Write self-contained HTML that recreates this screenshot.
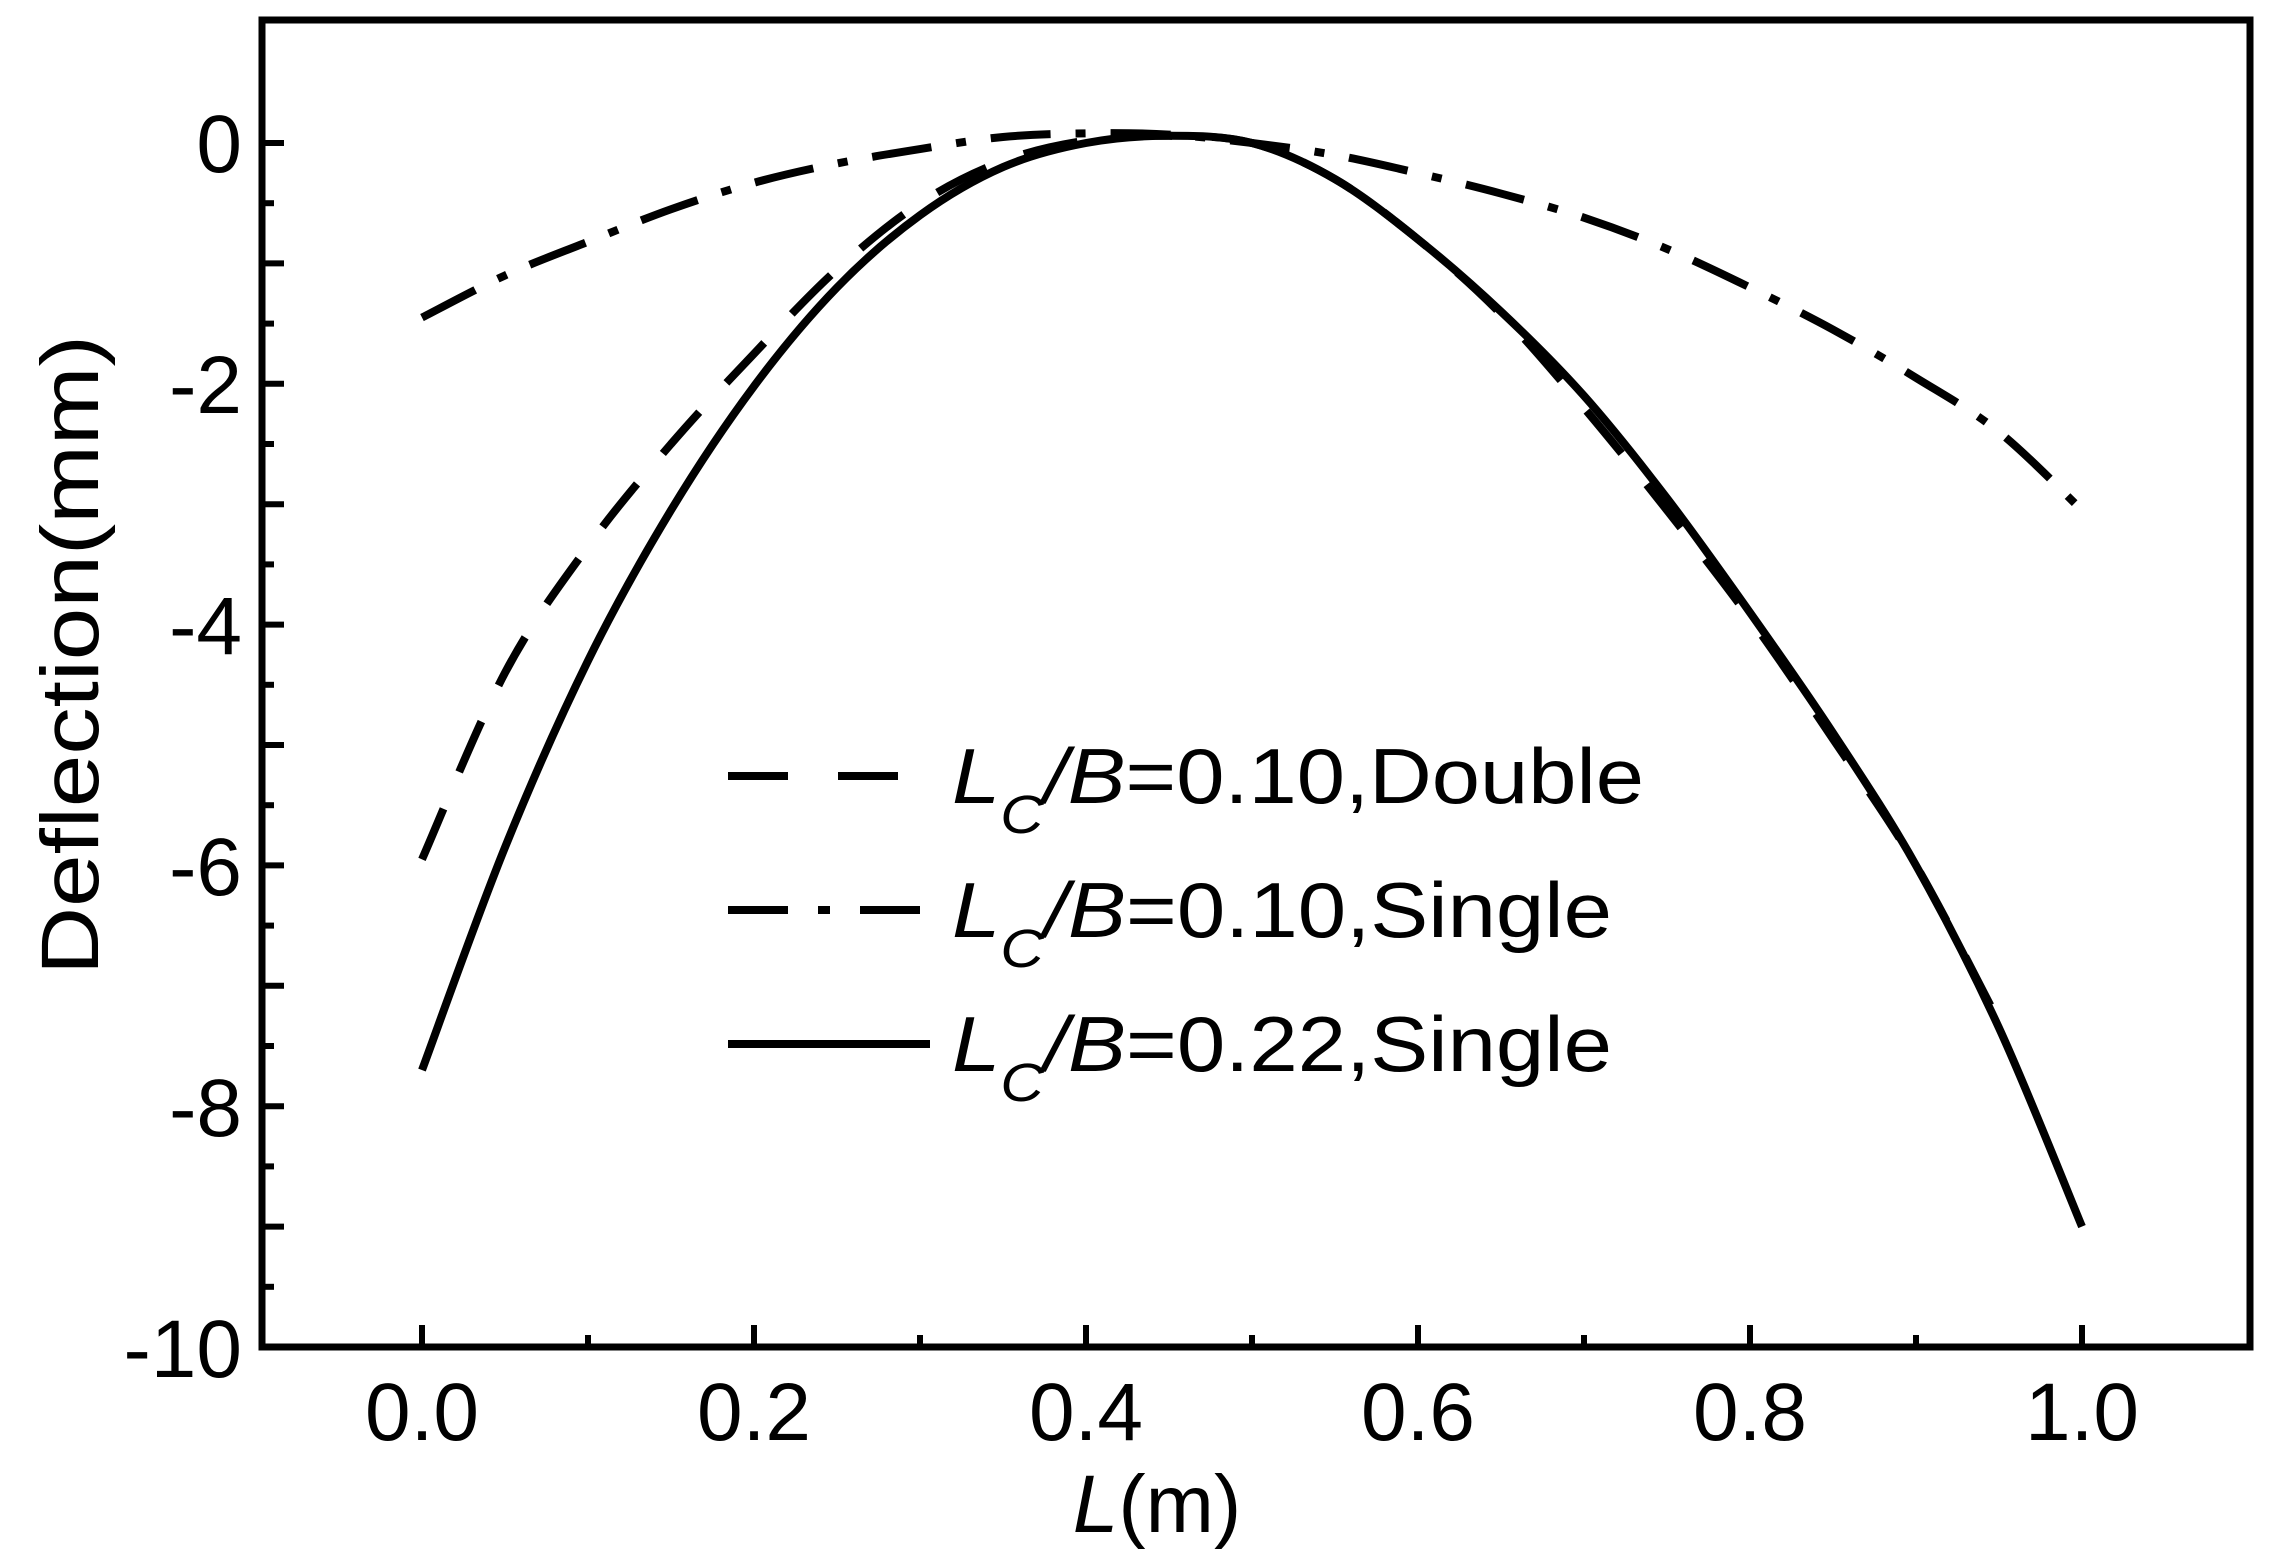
<!DOCTYPE html>
<html><head><meta charset="utf-8"><style>
html,body{margin:0;padding:0;background:#fff;}
svg{display:block;}
text{font-family:"Liberation Sans",Arial,sans-serif;fill:#000;}
</style></head><body>
<svg id="s" width="2277" height="1564" viewBox="0 0 2277 1564" xmlns="http://www.w3.org/2000/svg">
<rect x="0" y="0" width="2277" height="1564" fill="#fff"/>
<g id="curves" fill="none" stroke="#000" stroke-width="8" stroke-linejoin="round"></g>
<rect x="262" y="20" width="1988" height="1327" fill="none" stroke="#000" stroke-width="7"/>
<g id="ticks" stroke="#000" stroke-width="6"></g>
<g font-size="82">
<text x="242" y="172" text-anchor="end">0</text>
<text x="242" y="413" text-anchor="end">-2</text>
<text x="242" y="654" text-anchor="end">-4</text>
<text x="242" y="895" text-anchor="end">-6</text>
<text x="242" y="1136" text-anchor="end">-8</text>
<text x="242" y="1377" text-anchor="end">-10</text>
<text x="422" y="1440" text-anchor="middle">0.0</text>
<text x="754" y="1440" text-anchor="middle">0.2</text>
<text x="1086" y="1440" text-anchor="middle">0.4</text>
<text x="1418" y="1440" text-anchor="middle">0.6</text>
<text x="1750" y="1440" text-anchor="middle">0.8</text>
<text x="2082" y="1440" text-anchor="middle">1.0</text>
<text x="1157" y="1532" text-anchor="middle"><tspan font-style="italic">L</tspan>(m)</text>
<text transform="translate(98,655) rotate(-90)" text-anchor="middle" textLength="640" lengthAdjust="spacingAndGlyphs">Deflection(mm)</text>
</g>
<g stroke="#000" stroke-width="8">
<line x1="728" y1="776" x2="930" y2="776" stroke-dasharray="60,50"/>
<line x1="728" y1="910" x2="930" y2="910" stroke-dasharray="60,30,12,30,60"/>
<line x1="728" y1="1044" x2="930" y2="1044"/>
</g>
<g font-size="78">
<text x="952" y="803" textLength="692" lengthAdjust="spacingAndGlyphs"><tspan font-style="italic">L</tspan><tspan font-style="italic" font-size="54" dy="30">C</tspan><tspan font-style="italic" dy="-30">/B</tspan>=0.10,Double</text>
<text x="952" y="937" textLength="660" lengthAdjust="spacingAndGlyphs"><tspan font-style="italic">L</tspan><tspan font-style="italic" font-size="54" dy="30">C</tspan><tspan font-style="italic" dy="-30">/B</tspan>=0.10,Single</text>
<text x="952" y="1071" textLength="660" lengthAdjust="spacingAndGlyphs"><tspan font-style="italic">L</tspan><tspan font-style="italic" font-size="54" dy="30">C</tspan><tspan font-style="italic" dy="-30">/B</tspan>=0.22,Single</text>
</g>
</svg>
<script>
var X=function(v){return 422+v*1660;},Y=function(v){return 143-v*120.4;};
function path(pts){
 var p=pts.map(function(a){return [X(a[0]),Y(a[1])];});
 var d="M"+p[0][0]+","+p[0][1];
 for(var i=0;i<p.length-1;i++){
  var p0=p[i-1]||p[i],p1=p[i],p2=p[i+1],p3=p[i+2]||p2;
  var c1=[p1[0]+(p2[0]-p0[0])/6,p1[1]+(p2[1]-p0[1])/6];
  var c2=[p2[0]-(p3[0]-p1[0])/6,p2[1]-(p3[1]-p1[1])/6];
  d+=" C"+c1+" "+c2+" "+p2;
 }
 return d;
}
var solid=[[0,-7.7],[0.05,-5.85],[0.1,-4.3],[0.15,-3.05],[0.2,-2.02],[0.25,-1.2],[0.3,-0.6],[0.35,-0.2],[0.4,0.0],[0.45,0.06],[0.5,0.0],[0.55,-0.3],[0.6,-0.8],[0.65,-1.4],[0.7,-2.1],[0.75,-2.95],[0.8,-3.9],[0.85,-4.9],[0.9,-6.0],[0.95,-7.35],[1.0,-9.0]];
var dbl=[[0,-5.95],[0.05,-4.4],[0.1,-3.35],[0.15,-2.5],[0.2,-1.75],[0.25,-1.05],[0.3,-0.5],[0.35,-0.15],[0.4,0.02],[0.45,0.06],[0.5,0.0],[0.55,-0.3],[0.6,-0.8],[0.65,-1.42],[0.7,-2.2],[0.75,-3.05],[0.8,-3.95],[0.85,-4.95],[0.9,-6.0],[0.95,-7.3]];
var dd=[[0,-1.45],[0.05,-1.1],[0.1,-0.82],[0.15,-0.55],[0.2,-0.33],[0.25,-0.17],[0.3,-0.05],[0.35,0.05],[0.4,0.08],[0.45,0.07],[0.5,0.0],[0.55,-0.1],[0.6,-0.25],[0.65,-0.42],[0.7,-0.62],[0.75,-0.88],[0.8,-1.2],[0.85,-1.55],[0.9,-1.95],[0.95,-2.4],[1.0,-3.05]];
var g=document.getElementById("curves");
function add(pts,dash){var e=document.createElementNS("http://www.w3.org/2000/svg","path");e.setAttribute("d",path(pts));if(dash)e.setAttribute("stroke-dasharray",dash);g.appendChild(e);}
add(dbl,"55,40");add(dd,"60,25,10,25");add(solid,null);
var t=document.getElementById("ticks"),s="";
for(var i=0;i<=10;i++){var x=X(i*0.1);s+='<line x1="'+x+'" y1="1347" x2="'+x+'" y2="'+(i%2?1335:1325)+'"/>';}
for(var j=0;j<=20;j++){var y=Y(-j*0.5);if(y<25)continue;s+='<line x1="262" y1="'+y+'" x2="'+(j%2?274:284)+'" y2="'+y+'"/>';}
t.innerHTML=s;
</script>
</body></html>
